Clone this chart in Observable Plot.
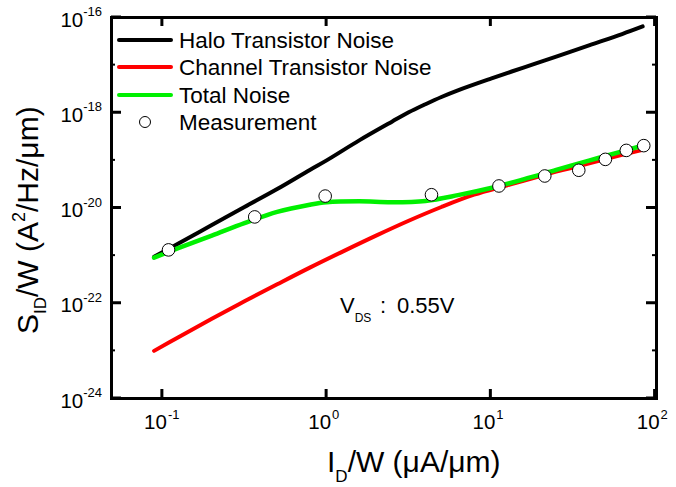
<!DOCTYPE html>
<html><head><meta charset="utf-8">
<script src="https://cdn.jsdelivr.net/npm/d3@7"></script>
<script src="https://cdn.jsdelivr.net/npm/@observablehq/plot@0.6"></script>
<style>body{margin:0;background:#fff}</style>
</head><body><div id="chart"></div>
<script>
const FONT = "'Liberation Sans', Arial, Helvetica, sans-serif";

// I_D/W (µA/µm) and S_ID/W (A^2/Hz/µm) for each model curve
const haloX     = [0.089, 0.126, 0.2, 0.316, 0.5, 0.79, 1, 1.58, 2.5, 3.16, 4, 5.0, 6.3, 10, 15.8, 25, 40, 63, 84];
const haloNoise = [9.5e-22, 1.82e-21, 4.4e-21, 1.05e-20, 2.5e-20, 6.3e-20, 1.0e-19, 2.63e-19, 6.5e-19, 1.02e-18, 1.51e-18, 2.14e-18, 2.95e-18, 5.2e-18, 8.9e-18, 1.51e-17, 2.63e-17, 4.5e-17, 6.5e-17];

const channelX     = [0.089, 0.126, 0.2, 0.316, 0.5, 0.79, 1.26, 2.0, 3.16, 5.0, 7.9, 12.6, 20, 31.6, 50, 84];
const channelNoise = [1.0e-23, 1.95e-23, 4.7e-23, 1.1e-22, 2.5e-22, 5.6e-22, 1.23e-21, 2.63e-21, 5.4e-21, 1.05e-20, 1.9e-20, 3.0e-20, 4.7e-20, 7.1e-20, 1.07e-19, 1.66e-19];

const totalX     = [0.089, 0.126, 0.2, 0.316, 0.5, 0.79, 1, 1.58, 2.5, 4, 6.3, 10, 15.8, 25, 40, 63, 84];
const totalNoise = [9.1e-22, 1.45e-21, 2.63e-21, 4.8e-21, 8.3e-21, 1.17e-20, 1.32e-20, 1.38e-20, 1.32e-20, 1.41e-20, 1.86e-20, 2.63e-20, 4.0e-20, 6.3e-20, 1.0e-19, 1.55e-19, 2.04e-19];

// Measurements
const measX = [0.109, 0.365, 0.98, 4.35, 11.2, 21.3, 34.3, 49.8, 66.8, 85.3];
const measY = [1.32e-21, 6.5e-21, 1.78e-20, 1.9e-20, 2.9e-20, 4.7e-20, 6.2e-20, 1.05e-19, 1.62e-19, 2.04e-19];

const seriesNames = ["Halo Transistor Noise", "Channel Transistor Noise", "Total Noise", "Measurement"];
const seriesColors = ["#000000", "#ff0000", "#00f000", "#000000"];

// Tick exponents
const yTickExponents = [-16, -18, -20, -22, -24];
const yMinorExponents = [-17, -19, -21, -23];
const xTickExponents = [-1, 0, 1, 2];

const annotationMain = "V";
const annotationSub = "DS";
const annotationValue = "0.55V";

const toRows = (xs, ys) => xs.map((x, i) => ({x, y: ys[i]}));
const haloRows = toRows(haloX, haloNoise);
const channelRows = toRows(channelX, channelNoise);
const totalRows = toRows(totalX, totalNoise);
const measRows = toRows(measX, measY);

function decorations(index, scales, values, dim) {
  const x = scales.x, y = scales.y;
  const L = dim.marginLeft, R = dim.width - dim.marginRight;
  const T = dim.marginTop, B = dim.height - dim.marginBottom;
  const g = d3.create("svg:g").attr("font-family", FONT).attr("fill", "black").attr("text-anchor", "start");
  const line = (x1, y1, x2, y2, w) => g.append("line").attr("x1", x1).attr("y1", y1).attr("x2", x2).attr("y2", y2)
    .attr("stroke", "black").attr("stroke-width", w);
  // y ticks (inward, both sides)
  for (const e of yTickExponents) {
    const py = y(10 ** e);
    line(L, py, L + 10, py, 3);
    line(R - 10, py, R, py, 3);
    const t = g.append("text").attr("x", L - 9).attr("y", py + 9.5).attr("text-anchor", "end").attr("font-size", 20.5).text("10");
    t.append("tspan").attr("font-size", 13).attr("dy", -10.5).text(String(e));
  }
  for (const e of yMinorExponents) {
    const py = y(10 ** e);
    line(L, py, L + 4, py, 2);
    line(R - 4, py, R, py, 2);
  }
  // x ticks (inward, bottom and top)
  for (const e of xTickExponents) {
    const px = x(10 ** e);
    line(px, B, px, B - 9, 3);
    line(px, T, px, T + 9, 3);
    g.append("text").attr("x", px + 5).attr("y", B + 30.5).attr("text-anchor", "end").attr("font-size", 20.5).text("10");
    g.append("text").attr("x", px + 6).attr("y", B + 20.5).attr("text-anchor", "start").attr("font-size", 13).text(String(e));
  }
  // x title
  const xt = g.append("text").attr("x", 327).attr("y", 472).attr("font-size", 30).text("I");
  xt.append("tspan").attr("font-size", 17).attr("dy", 10).text("D");
  xt.append("tspan").attr("font-size", 30).attr("dy", -10).text("/W (\u03bcA/\u03bcm)");
  // y title
  const yt = g.append("text").attr("transform", "translate(38,334) rotate(-90)").attr("font-size", 30).text("S");
  yt.append("tspan").attr("font-size", 17).attr("dy", 8).text("ID");
  yt.append("tspan").attr("font-size", 30).attr("dy", -8).text("/W (A");
  yt.append("tspan").attr("font-size", 18).attr("dy", -13).text("2");
  yt.append("tspan").attr("font-size", 30).attr("dy", 13).text("/Hz/\u03bcm)");
  // annotation
  const an = g.append("text").attr("x", 340).attr("y", 313).attr("font-size", 22).text(annotationMain);
  an.append("tspan").attr("font-size", 12).attr("dy", 9).text(annotationSub);
  an.append("tspan").attr("font-size", 22).attr("dy", -9).attr("x", 380).text(":");
  an.append("tspan").attr("font-size", 22).attr("x", 397).text(annotationValue);
  // legend
  const ly = [40, 67, 95, 122];
  seriesNames.forEach((name, i) => {
    if (i < 3) {
      g.append("line").attr("x1", 119).attr("x2", 171).attr("y1", ly[i]).attr("y2", ly[i])
        .attr("stroke", seriesColors[i]).attr("stroke-width", 4).attr("stroke-linecap", "round");
    } else {
      g.append("circle").attr("cx", 145).attr("cy", ly[i]).attr("r", 5.5).attr("fill", "white").attr("stroke", "black").attr("stroke-width", 1);
    }
    g.append("text").attr("x", 179).attr("y", ly[i] + 7.5).attr("font-size", 22.5).text(name);
  });
  return g.node();
}

const chart = Plot.plot({
  width: 676,
  height: 487,
  marginLeft: 111,
  marginRight: 20,
  marginTop: 17,
  marginBottom: 89,
  x: {type: "log", domain: [0.049, 102], axis: null},
  y: {type: "log", domain: [1e-24, 1e-16], axis: null},
  marks: [
    Plot.line(haloRows, {x: "x", y: "y", stroke: seriesColors[0], strokeWidth: 4, curve: "catmull-rom", strokeLinecap: "round"}),
    Plot.line(channelRows, {x: "x", y: "y", stroke: seriesColors[1], strokeWidth: 4, curve: "catmull-rom", strokeLinecap: "round"}),
    Plot.line(totalRows, {x: "x", y: "y", stroke: seriesColors[2], strokeWidth: 4.5, curve: "catmull-rom", strokeLinecap: "round"}),
    Plot.dot(measRows, {x: "x", y: "y", r: 6.3, fill: "white", stroke: "black", strokeWidth: 1}),
    Plot.frame({stroke: "black", strokeWidth: 3}),
    decorations
  ]
});
document.getElementById("chart").appendChild(chart);
</script>
</body></html>
